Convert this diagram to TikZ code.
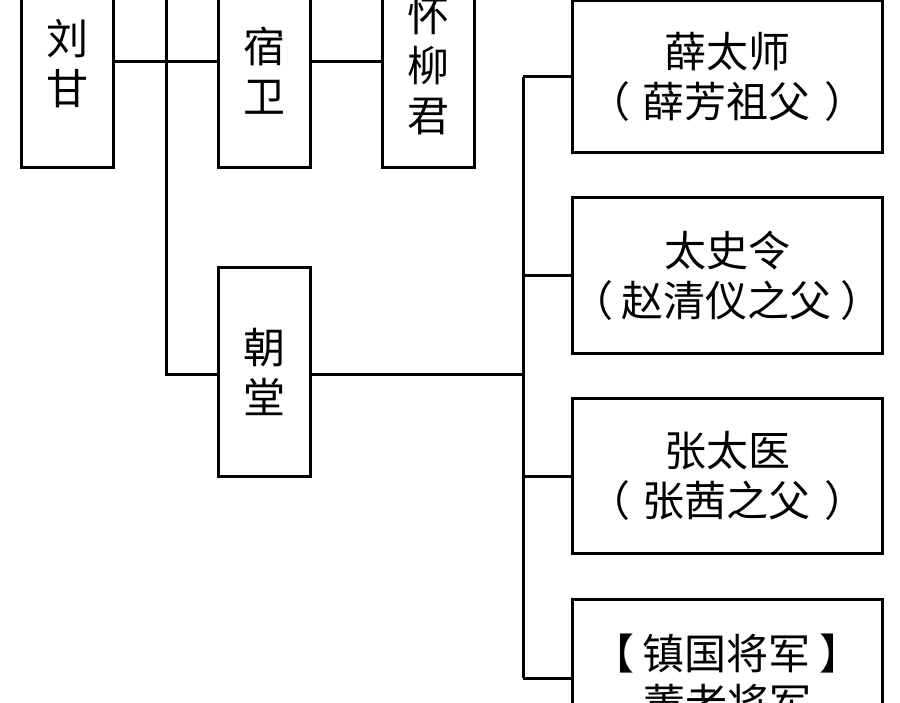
\documentclass[tikz,border=0pt]{standalone}
\usepackage{fontspec}
\newfontfamily\cjk{Noto Sans CJK SC}
\newcommand{\pgap}{\hspace{13pt}}
\newcommand{\bgap}{\hspace{9pt}}
\begin{document}
\begin{tikzpicture}[x=1pt,y=-1pt,
  box/.style={draw=black,line width=3pt,rectangle,inner sep=0pt,align=center,
    font=\cjk\fontsize{42}{50}\selectfont},
  lbox/.style={box,minimum width=92pt},
  rbox/.style={box,minimum width=310pt},
  conn/.style={draw=black,line width=3pt}]
\useasboundingbox (0,0) rectangle (900,703);
\clip (0,0) rectangle (900,703);
\fill[white] (0,0) rectangle (900,703);
% left row
\node[lbox,minimum height=208pt] (liugan) at (67,64) {刘\\甘};
\node[lbox,minimum height=194pt] (suwei) at (264,71) {宿\\卫};
\node[lbox,minimum height=204pt] (huai) at (428,66) {怀\\柳\\君};
\node[lbox,minimum height=209pt] (chaotang) at (264,372) {朝\\堂};
% right column
\node[rbox,minimum height=152pt] (xue) at (727,77) {薛太师\\（\pgap 薛芳祖父\pgap ）};
\node[rbox,minimum height=156pt] (tai) at (727,276) {太史令\\\makebox[280pt]{（\hspace{9pt}赵清仪之父\hspace{9pt}）}};
\node[rbox,minimum height=155pt] (zhang) at (727,476) {张太医\\（\pgap 张茜之父\pgap ）};
\node[rbox,minimum height=158pt] (zhen) at (727,678) {【\bgap 镇国将军\bgap 】\\董老将军};
% junction coordinates
\coordinate (r1) at (0,62);
\coordinate (vtop) at (166,-10);
\coordinate (vbot) at (166,375);
\coordinate (tx) at (523,0);
% connectors
\draw[conn] (liugan.east |- r1) -- (suwei.west |- r1);
\draw[conn] (suwei.east |- r1) -- (huai.west |- r1);
\draw[conn] (vtop) -- (vbot) -- (chaotang.west |- vbot);
\draw[conn] (chaotang.east |- vbot) -- (tx |- vbot);
\draw[conn] (tx |- xue.west) -- (tx |- zhen.west);
\draw[conn] (tx |- xue.west) -- (xue.west);
\draw[conn] (tx |- tai.west) -- (tai.west);
\draw[conn] (tx |- zhang.west) -- (zhang.west);
\draw[conn] (tx |- zhen.west) -- (zhen.west);
\end{tikzpicture}
\end{document}
